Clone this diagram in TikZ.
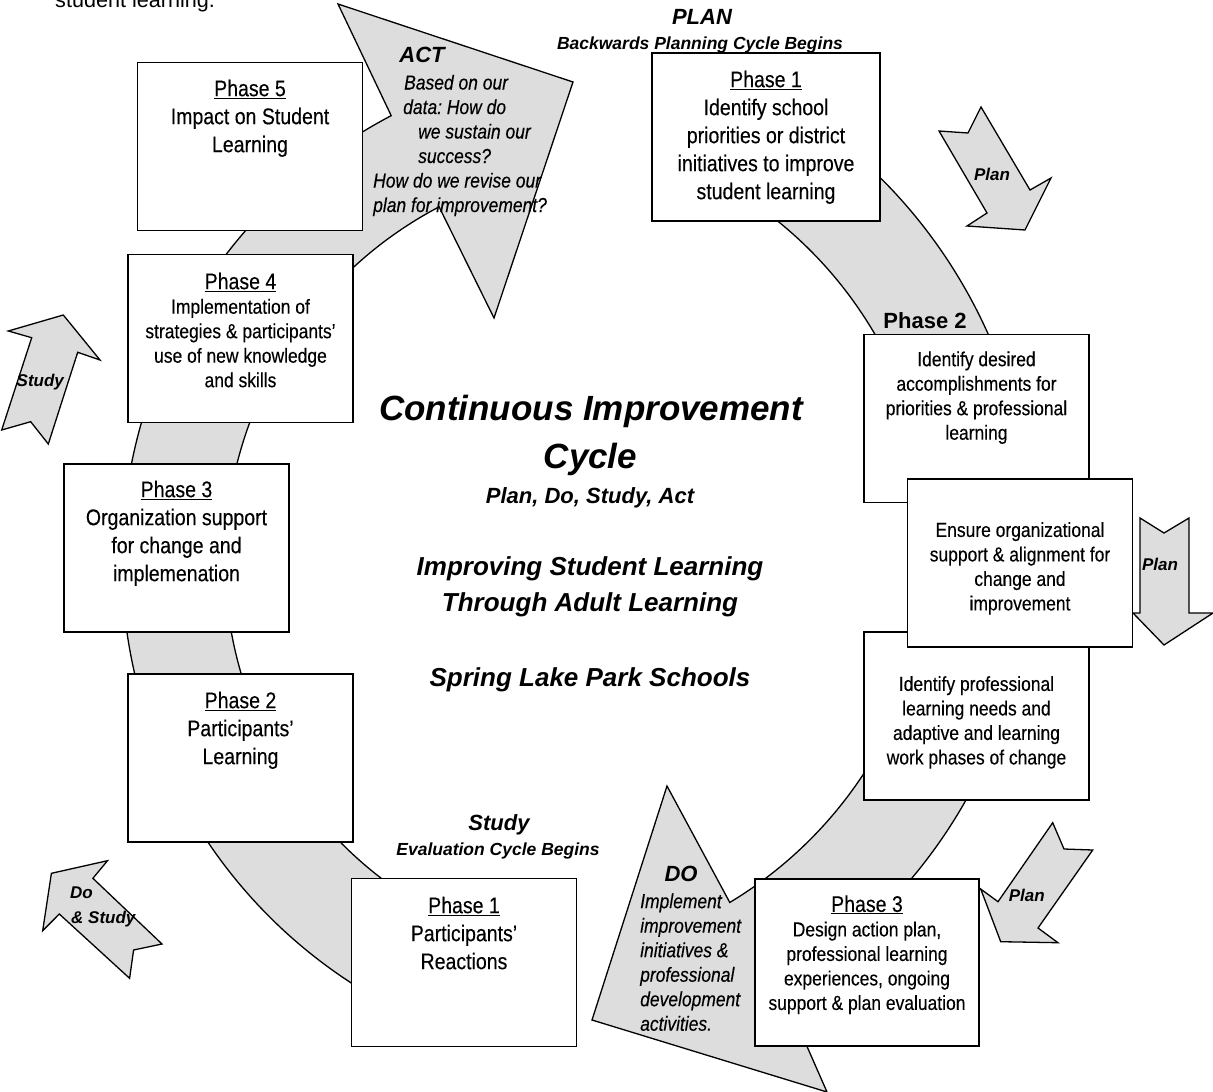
\documentclass[tikz,border=0pt]{standalone}
\usepackage{fontspec}
\setmainfont{Liberation Sans}
\newfontfamily\narrowf{Liberation Sans}[FakeStretch=0.86,FakeBold=0.25]
\usetikzlibrary{calc}
\definecolor{bandgray}{HTML}{DDDDDD}
\newcommand\txtbig{\narrowf\fontsize{22.7}{28}\selectfont}
\newcommand\txtsmall{\narrowf\fontsize{20.3}{24.5}\selectfont}
\newcommand\firstln{\rule{0pt}{20pt}}
\frenchspacing
\begin{document}
\begin{tikzpicture}[x=1pt,y=1pt,
  band/.style={fill=bandgray,draw=black,line width=1.3pt,line join=miter},
  smallarrow/.style={fill=bandgray,draw=black,line width=1.3pt,line join=miter},
  box/.style={draw=black,fill=white,line width=1.8pt,minimum width=225pt,minimum height=168pt,inner sep=0pt},
  btxt/.style={anchor=north,inner sep=0pt,align=center,font=\txtbig},
  stxt/.style={anchor=north,inner sep=0pt,align=center,font=\txtsmall},
  itxt/.style={anchor=north west,inner sep=0pt,align=left,font=\txtsmall\itshape},
  hd/.style={anchor=base,inner sep=0pt,font=\fontsize{22}{26}\selectfont\bfseries\itshape},
  subhd/.style={anchor=base,inner sep=0pt,font=\fontsize{17.5}{21}\selectfont\bfseries\itshape},
  lbl/.style={anchor=base,inner sep=0pt,font=\fontsize{17}{20}\selectfont\bfseries\itshape},
  title/.style={anchor=base,inner sep=0pt,font=\fontsize{35}{42}\selectfont\bfseries\itshape},
  subtitle/.style={anchor=base,inner sep=0pt,font=\fontsize{26}{31}\selectfont\bfseries\itshape}
]
\useasboundingbox (0,0) rectangle (1213,-1092);

% ---- centres of the two curved arrows
\coordinate (lc) at (625,-561);
\coordinate (rc) at (515,-545);

% ---- left curved arrow (Study -> Act)
\path[band] ($(lc)+(248:400pt)$) arc[start angle=248,end angle=117.7,radius=400pt]
  -- (494,-318) -- (573,-82) -- (338,-4)
  -- ($(lc)+(117.7:503pt)$) arc[start angle=117.7,end angle=248,radius=503pt] -- cycle;

% ---- right curved arrow (Plan -> Do)
\path[band] ($(rc)+(60:417pt)$) arc[start angle=60,end angle=-59,radius=417pt]
  -- (667,-786) -- (592,-1020) -- (827,-1092)
  -- ($(rc)+(-59:518pt)$) arc[start angle=-59,end angle=60,radius=518pt] -- cycle;

% ---- small notched arrows
\path[smallarrow] (939,-131) -- (968,-133) -- (981,-107) -- (1030,-190) -- (1051,-178)
  -- (1025,-230) -- (967,-226) -- (987,-213) -- cycle;
\path[smallarrow] (1140,-518) -- (1164,-533) -- (1189,-518) -- (1189,-613) -- (1213,-613)
  -- (1164,-645) -- (1133,-613) -- (1140,-613) -- cycle;
\path[smallarrow] (1052.7,-822.7) -- (1064,-849) -- (1092.7,-850) -- (1038,-928) -- (1058,-942.7)
  -- (1000.7,-941.7) -- (980.7,-889) -- (998,-901.7) -- cycle;
\path[smallarrow] (63.3,-315) -- (100,-360) -- (77.7,-352.3) -- (48.3,-444) -- (30.7,-421.7)
  -- (1.7,-430) -- (31.7,-337.7) -- (8.3,-331) -- cycle;
\path[smallarrow] (51.4,-873.3) -- (107.5,-860.7) -- (92.9,-878.3) -- (162,-944) -- (133.6,-950)
  -- (129.6,-978.3) -- (59.3,-914) -- (42.7,-930.7) -- cycle;

% ---- boxes
\node[box] (p5)  at (250,-146.5) {};
\node[box] (p4)  at (240.5,-338.5) {};
\node[box] (p3l) at (176.5,-548) {};
\node[box] (p2l) at (240.5,-758) {};
\node[box] (p1b) at (464,-962.5) {};
\node[box,minimum width=228pt] (p1r) at (766,-137) {};
\node[box] (ba)  at (976.5,-418.5) {};
\node[box] (bc)  at (976.5,-716) {};
\node[box] (bb)  at (1020,-563) {};
\node[box,minimum width=224pt,minimum height=167pt] (p3r) at (867,-962.5) {};

% ---- box texts
\node[btxt] (t5) at (250,-76) {\firstln\underline{Phase 5}\\Impact on Student\\Learning};
\node[stxt] (t4) at (240.5,-269) {\firstln{\txtbig\underline{Phase 4}}\\Implementation of\\strategies \& participants’\\use of new knowledge\\and skills};
\node[btxt] (t3l) at (176.5,-477) {\firstln\underline{Phase 3}\\Organization support\\for change and\\implemenation};
\node[btxt] (t2l) at (240.5,-688) {\firstln\underline{Phase 2}\\Participants’\\Learning};
\node[btxt] (t1b) at (464,-893) {\firstln\underline{Phase 1}\\Participants’\\Reactions};
\node[btxt] (t1r) at (766,-67) {\firstln\underline{Phase 1}\\Identify school\\priorities or district\\initiatives to improve\\student learning};
\node[stxt] (ta) at (976.5,-346) {\firstln Identify desired\\accomplishments for\\priorities \& professional\\learning};
\node[stxt] (tb) at (1020,-516.7) {\firstln Ensure organizational\\support \& alignment for\\change and\\improvement};
\node[stxt] (tc) at (976.5,-670.7) {\firstln Identify professional\\learning needs and\\adaptive and learning\\work phases of change};
\node[stxt] (t3r) at (867,-891.7) {\firstln{\txtbig\underline{Phase 3}}\\Design action plan,\\professional learning\\experiences, ongoing\\support \& plan evaluation};

% ---- headings
\node[hd] (plan) at (702,-24) {PLAN};
\node[subhd] (plansub) at (700,-49) {Backwards Planning Cycle Begins};
\node[hd] (act) at (422,-62.7) {ACT};
\node[itxt] (acttxt) at (373,-69.3) {\firstln\hspace*{31pt}Based on our\\\hspace*{30pt}data: How do\\\hspace*{45pt}we sustain our\\\hspace*{45pt}success?\\How do we revise our\\plan for improvement?};
\node[hd] (do) at (681,-881.7) {DO};
\node[itxt] (dotxt) at (640,-888) {\firstln Implement\\improvement\\initiatives \&\\professional\\development\\activities.};
\node[hd] (study) at (499,-830) {Study};
\node[subhd] (studysub) at (498,-855.7) {Evaluation Cycle Begins};
\node[anchor=base,inner sep=0pt,font=\fontsize{22}{26}\selectfont\bfseries] (ph2) at (925,-328) {Phase 2};

% ---- arrow labels
\node[lbl] (l1) at (992,-180) {Plan};
\node[lbl] (l2) at (1160,-570.7) {Plan};
\node[lbl] (l3) at (1026.7,-901.7) {Plan};
\node[lbl] (l4) at (40.3,-386) {Study};
\node[lbl,anchor=base west] (l5) at (70,-898) {Do};
\node[lbl,anchor=base west] (l6) at (71,-923) {\& Study};

% ---- centre title
\node[title] (c1) at (591,-420.7) {Continuous Improvement};
\node[title] (c2) at (590.5,-468) {Cycle};
\node[hd] (c3) at (590,-503) {Plan, Do, Study, Act};
\node[subtitle] (c4) at (590,-575) {Improving Student Learning};
\node[subtitle] (c5) at (590,-611) {Through Adult Learning};
\node[subtitle] (c6) at (590,-686) {Spring Lake Park Schools};

% ---- text cut by the top edge, as in the reference
\node[anchor=base west,inner sep=0pt,font=\fontsize{21.6}{26}\selectfont] (top) at (55,-8) {student learning.};
\end{tikzpicture}
\end{document}
